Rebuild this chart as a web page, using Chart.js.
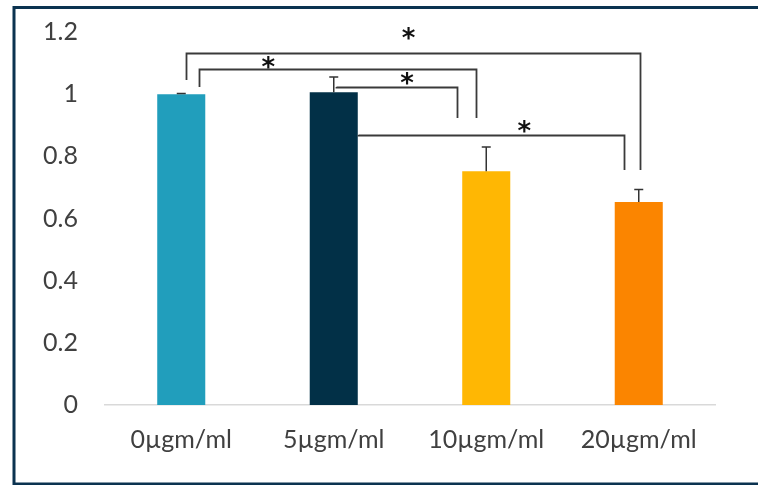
<!DOCTYPE html>
<html>
<head>
<meta charset="utf-8">
<script src="https://cdn.jsdelivr.net/npm/chart.js@4/dist/chart.umd.min.js"></script>
<style>
  html, body { margin: 0; padding: 0; background: #ffffff; }
  #wrap { width: 758px; height: 485px; position: relative; }
</style>
</head>
<body>
<div id="wrap"><canvas id="c" width="758" height="485"></canvas></div>
<script>
// ---- data ----
const categories = ['0\u00B5gm/ml', '5\u00B5gm/ml', '10\u00B5gm/ml', '20\u00B5gm/ml'];
const means = [1.0, 1.006, 0.752, 0.653];
const errors = [0.002, 0.049, 0.078, 0.04];
const barColors = ['#219EBC', '#023047', '#FFB703', '#FB8500'];
const yMin = 0, yMax = 1.2, yStep = 0.2;

// significance comparisons (category indices, heights in data units)
const comparisons = [
  { from: 0, to: 3, level: 1.132, fromEnd: 1.045, toEnd: 0.756, starY: 1.196, label: '*' },
  { from: 0, to: 2, level: 1.080, fromEnd: 1.023, toEnd: 0.923, starY: 1.103, label: '*' },
  { from: 1, to: 2, level: 1.023, fromEnd: 1.023, toEnd: 0.923, starY: 1.051, label: '*' },
  { from: 1, to: 3, level: 0.868, fromEnd: 0.868, toEnd: 0.756, starY: 0.897, label: '*' }
];
// horizontal offsets of bracket legs, in category units (styling)
const legOffsets = [
  [0.033, 0.007],
  [0.118, -0.066],
  [0.013, -0.19],
  [0.157, -0.098]
];
const starX = [1.49, 0.57, 1.48, 2.25];

const frameAndMarks = {
  id: 'frameAndMarks',
  afterDatasetsDraw(chart) {
    const ctx = chart.ctx;
    const x = chart.scales.x, y = chart.scales.y;
    ctx.save();
    // error bars
    ctx.strokeStyle = '#333333';
    ctx.lineWidth = 1.5;
    means.forEach((m, i) => {
      const px = x.getPixelForValue(i);
      const top = y.getPixelForValue(m);
      const eTop = y.getPixelForValue(m + errors[i]);
      ctx.beginPath();
      ctx.moveTo(px, top);
      ctx.lineTo(px, eTop);
      ctx.moveTo(px - 4.5, eTop);
      ctx.lineTo(px + 4.5, eTop);
      ctx.stroke();
    });
    // brackets
    ctx.strokeStyle = '#3a3a3a';
    ctx.lineWidth = 1.8;
    comparisons.forEach((c, k) => {
      const x1 = Math.round(x.getPixelForValue(c.from + legOffsets[k][0])) + 0.5;
      const x2 = Math.round(x.getPixelForValue(c.to + legOffsets[k][1])) + 0.5;
      const yl = Math.round(y.getPixelForValue(c.level)) + 0.5;
      ctx.beginPath();
      ctx.moveTo(x1, Math.round(y.getPixelForValue(c.fromEnd)));
      ctx.lineTo(x1, yl);
      ctx.lineTo(x2, yl);
      ctx.lineTo(x2, Math.round(y.getPixelForValue(c.toEnd)));
      ctx.stroke();
      ctx.fillStyle = '#111111';
      ctx.font = 'bold 26px "DejaVu Sans"';
      ctx.textAlign = 'center';
      ctx.textBaseline = 'alphabetic';
      ctx.fillText(c.label, x.getPixelForValue(starX[k]), y.getPixelForValue(c.starY) + 14);
    });
    // outer frame
    ctx.strokeStyle = '#0B3350';
    ctx.lineWidth = 3;
    ctx.beginPath();
    ctx.moveTo(800, 7.5);
    ctx.lineTo(14, 7.5);
    ctx.lineTo(14, 484);
    ctx.lineTo(800, 484);
    ctx.stroke();
    ctx.restore();
  }
};

new Chart(document.getElementById('c'), {
  type: 'bar',
  data: {
    labels: categories,
    datasets: [{
      data: means,
      backgroundColor: barColors,
      borderWidth: 0,
      barPercentage: 0.315,
      categoryPercentage: 1.0
    }]
  },
  options: {
    responsive: false,
    animation: false,
    devicePixelRatio: 1,
    layout: { autoPadding: false, padding: { left: 0, right: 43, top: 32, bottom: 0 } },
    plugins: { legend: { display: false }, tooltip: { enabled: false } },
    scales: {
      x: {
        grid: { display: false, drawTicks: false },
        border: { display: true, color: '#d9d9d9', width: 1.5 },
        ticks: { color: '#404040', font: { family: 'Lato', size: 25 }, padding: 20, maxRotation: 0 },
        afterFit(s) { s.height = 80; s.paddingLeft = 0; s.paddingRight = 0; }
      },
      y: {
        min: yMin, max: yMax,
        grid: { display: false, drawTicks: false },
        border: { display: false },
        ticks: {
          stepSize: yStep,
          color: '#404040',
          font: { family: 'Lato', size: 25 },
          padding: 27,
          callback: v => String(+Number(v).toFixed(1))
        },
        afterFit(s) { s.width = 105; s.paddingTop = 0; s.paddingBottom = 0; }
      }
    }
  },
  plugins: [frameAndMarks]
});
</script>
</body>
</html>
